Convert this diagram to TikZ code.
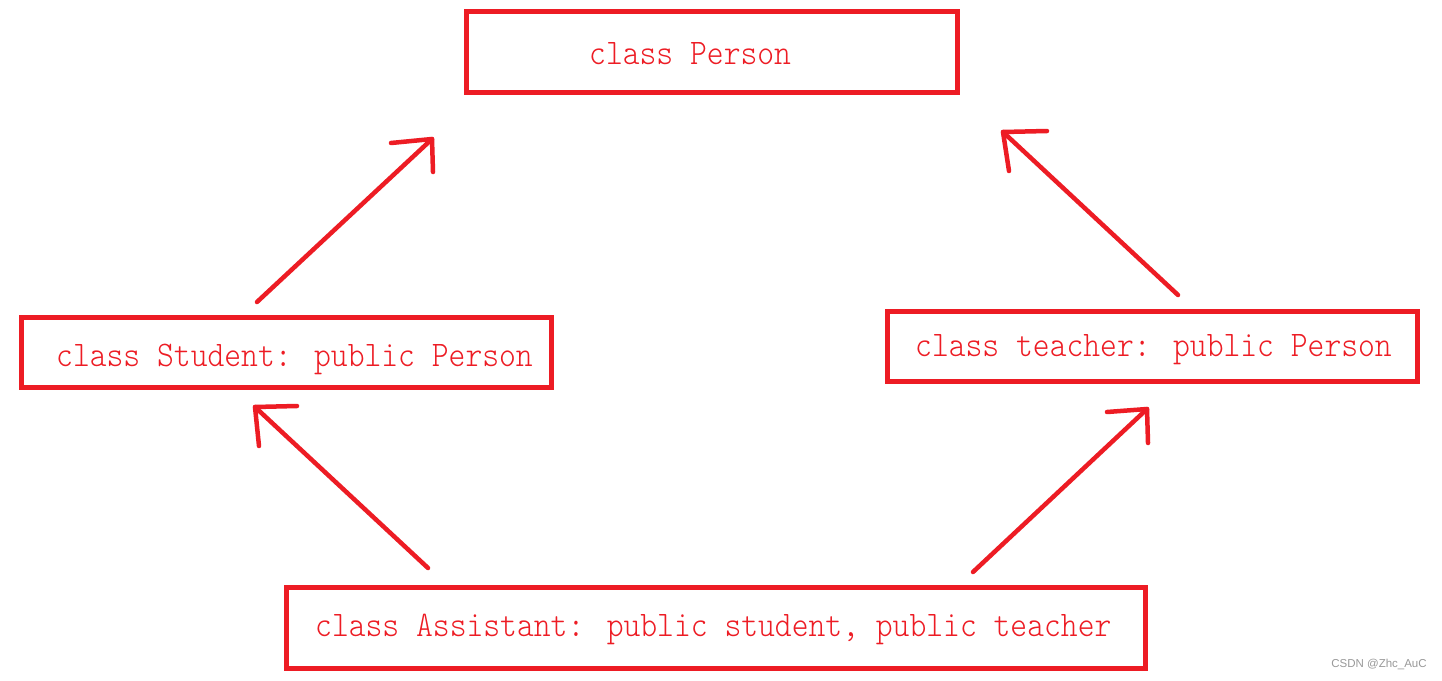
\documentclass[tikz,border=0pt]{standalone}
\usepackage{fontspec}
\newfontfamily\codefont[FakeStretch=0.89]{Latin Modern Mono Light}
\setsansfont{Liberation Sans}
\definecolor{pred}{HTML}{ED1C24}
\begin{document}
\begin{tikzpicture}[x=1pt,y=-1pt,
  box/.style={draw=pred,line width=5pt,inner sep=0pt,fill=none},
  lbl/.style={text=pred,font=\codefont\fontsize{36}{40}\selectfont,inner sep=0pt,anchor=base west},
  stroke/.style={draw=pred,line width=4.5pt,line cap=round,line join=round}]
\useasboundingbox[fill=white] (0,0) rectangle (1442,680);
% boxes
\node[box,minimum width=491pt,minimum height=81pt] (person) at (712,52) {};
\node[box,minimum width=530.5pt,minimum height=70pt] (student) at (286.25,352.5) {};
\node[box,minimum width=530.5pt,minimum height=70pt] (teacher) at (1152.25,346.5) {};
\node[box,minimum width=859pt,minimum height=81pt] (assistant) at (716,628) {};
% labels
\node[lbl] (tperson) at (589,64) {class Person};
\node[lbl] (tstudent) at (56,366) {class Student: public Person};
\node[lbl] (tteacher) at (915,356) {class teacher: public Person};
\node[lbl] (tassistant) at (315,636) {class Assistant: public student, public teacher};
% arrow coordinates
\coordinate (a1s) at (257,302); \coordinate (a1t) at (432,139);
\coordinate (a1h1) at (391,143); \coordinate (a1h2) at (433,172);
\coordinate (a2s) at (1178,295); \coordinate (a2t) at (1003,132);
\coordinate (a2h1) at (1047,131); \coordinate (a2h2) at (1009,171);
\coordinate (a3s) at (428,568); \coordinate (a3t) at (255,407);
\coordinate (a3h1) at (297,406); \coordinate (a3h2) at (259,446);
\coordinate (a4s) at (973,572); \coordinate (a4t) at (1147,409);
\coordinate (a4h1) at (1107,412); \coordinate (a4h2) at (1148,443);
\draw[stroke] (a1s) -- (a1t); \draw[stroke] (a1h1) -- (a1t) -- (a1h2);
\draw[stroke] (a2s) -- (a2t); \draw[stroke] (a2h1) -- (a2t) -- (a2h2);
\draw[stroke] (a3s) -- (a3t); \draw[stroke] (a3h1) -- (a3t) -- (a3h2);
\draw[stroke] (a4s) -- (a4t); \draw[stroke] (a4h1) -- (a4t) -- (a4h2);
% watermark
\node[text=black!40,font=\sffamily\fontsize{11.5}{13}\selectfont,inner sep=0pt] (wm) at (1379,664) {CSDN @Zhc\_AuC};
\end{tikzpicture}
\end{document}
